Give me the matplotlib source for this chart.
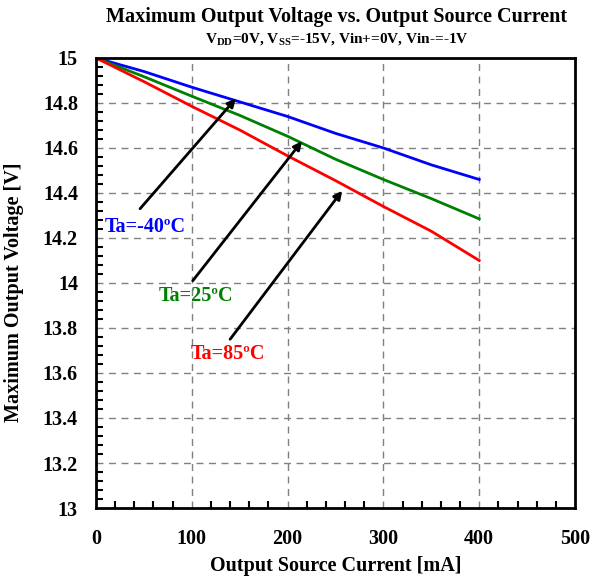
import numpy as np
import matplotlib.pyplot as plt
from matplotlib.ticker import MultipleLocator, FuncFormatter

plt.rcParams['font.family'] = ['Liberation Serif', 'DejaVu Serif']
plt.rcParams['font.weight'] = 'bold'
plt.rcParams['mathtext.fontset'] = 'custom'
plt.rcParams['mathtext.rm'] = 'Liberation Serif:bold'
plt.rcParams['mathtext.bf'] = 'Liberation Serif:bold'

# Dane (prąd w mA, napięcie w V)
current = [0, 50, 100, 150, 200, 250, 300, 350, 400]
v_m40 = [15.0, 14.94, 14.87, 14.805, 14.74, 14.665, 14.60, 14.525, 14.46]
v_25 = [15.0, 14.917, 14.83, 14.745, 14.652, 14.55, 14.46, 14.375, 14.285]
v_85 = [15.0, 14.895, 14.785, 14.68, 14.565, 14.455, 14.34, 14.23, 14.10]

labels = ["Ta=-40ºC", "Ta=25ºC", "Ta=85ºC"]
colors = ["#0000ff", "#008000", "#ff0000"]
# (x, y) etykiety, ogon strzałki, grot strzałki
label_pos = [(9, 14.25), (65, 13.94), (99, 13.685)]
arrow_tail = [(46, 14.33), (101, 14.01), (140, 13.75)]
arrow_head = [(146, 14.82), (215, 14.63), (257, 14.41)]

fig = plt.figure(figsize=(5.9, 5.78), dpi=100)
ax = fig.add_axes([0.1627, 0.1211, 0.8119, 0.7786])

for v, c in zip([v_m40, v_25, v_85], colors):
    ax.plot(current, v, color=c, linewidth=2)

for lab, c, lp, t, h in zip(labels, colors, label_pos, arrow_tail, arrow_head):
    ax.annotate("", xy=h, xytext=t,
                arrowprops=dict(arrowstyle="-|>", color="black", lw=2,
                                mutation_scale=12, shrinkA=0, shrinkB=0))
    ax.text(lp[0], lp[1], lab, color=c, fontsize=14.5, fontweight="bold",
            ha="left", va="center")

ax.set_xlim(0, 500)
ax.set_ylim(13, 15)
ax.xaxis.set_major_locator(MultipleLocator(100))
ax.xaxis.set_minor_locator(MultipleLocator(20))
ax.yaxis.set_major_locator(MultipleLocator(0.2))
ax.yaxis.set_minor_locator(MultipleLocator(0.04))
ax.yaxis.set_major_formatter(FuncFormatter(lambda y, p: "%g" % round(y, 2)))
ax.tick_params(which="both", direction="in", width=1.5, labelsize=14.5)
ax.tick_params(which="major", length=0)
ax.tick_params(which="minor", length=5)
ax.tick_params(axis="y", pad=13)
ax.tick_params(axis="x", pad=15)
for lab in ax.get_xticklabels() + ax.get_yticklabels():
    lab.set_fontweight("bold")
for s in ax.spines.values():
    s.set_linewidth(2)

ax.grid(True, which="major", color="gray", linestyle=(0, (5, 4)), linewidth=1)

ax.set_xlabel("Output Source Current [mA]", fontsize=14.5, fontweight="bold", labelpad=5)
ax.set_ylabel("Maximum Output Voltage [V]", fontsize=14.5, fontweight="bold")
ax.yaxis.set_label_coords(-0.15, 0.48)

fig.text(0.571, 0.9706, "Maximum Output Voltage vs. Output Source Current",
         ha="center", va="center", fontsize=14.5, fontweight="bold")
fig.text(0.571, 0.932, r"V$_{\rm DD}$=0V, V$_{\rm SS}$=-15V, Vin+=0V, Vin-=-1V",
         ha="center", va="center", fontsize=11, fontweight="bold")

fig.savefig("out.png", dpi=100)
